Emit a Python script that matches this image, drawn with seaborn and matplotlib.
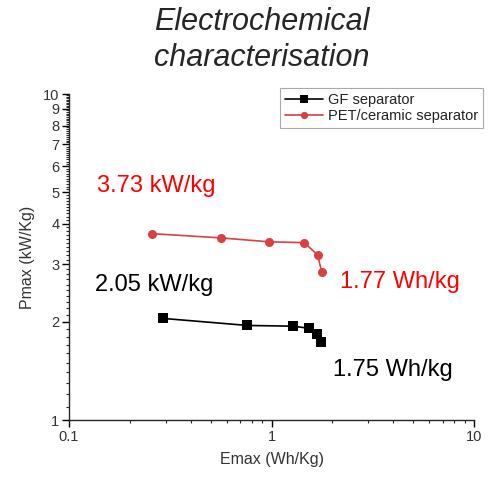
import matplotlib
matplotlib.use("Agg")
import matplotlib.pyplot as plt
import matplotlib.ticker as mticker
import seaborn as sns
import pandas as pd

gf_energy = [0.29, 0.76, 1.28, 1.54, 1.68, 1.75]
gf_power = [2.05, 1.95, 1.94, 1.91, 1.84, 1.74]
pet_energy = [0.256, 0.56, 0.975, 1.45, 1.69, 1.77]
pet_power = [3.73, 3.62, 3.52, 3.50, 3.21, 2.84]
series_names = ["GF separator", "PET/ceramic separator"]
series_colors = ["black", "#d9403f"]
series_markers = ["s", "o"]

sns.set_theme(style="ticks")
plt.rcParams['font.family'] = ['Liberation Sans', 'DejaVu Sans']

df = pd.concat([
    pd.DataFrame({"E": gf_energy, "P": gf_power, "s": series_names[0]}),
    pd.DataFrame({"E": pet_energy, "P": pet_power, "s": series_names[1]}),
])

fig = plt.figure(figsize=(4.95, 4.78), dpi=100)
ax = fig.add_axes([69/495, 58/478, 405/495, 326/478])
sns.lineplot(data=df, x="E", y="P", hue="s", style="s", sort=False,
             palette=dict(zip(series_names, series_colors)),
             markers=dict(zip(series_names, series_markers)),
             dashes=False, markersize=6.5, linewidth=1.2,
             markeredgewidth=0, ax=ax)
ax.set_xscale("log")
ax.set_yscale("log")
ax.set_xlim(0.1, 10)
ax.set_ylim(1, 10)
sns.despine(ax=ax)
ax.spines['left'].set_linewidth(1.0)
ax.spines['bottom'].set_linewidth(1.0)

ax.xaxis.set_major_locator(mticker.FixedLocator([0.1, 1, 10]))
ax.xaxis.set_major_formatter(mticker.FixedFormatter(["0.1", "1", "10"]))
ax.xaxis.set_minor_locator(mticker.LogLocator(base=10, subs=range(2, 10)))
ax.xaxis.set_minor_formatter(mticker.NullFormatter())
yt = [1, 2, 3, 4, 5, 6, 7, 8, 9, 10]
ax.yaxis.set_major_locator(mticker.FixedLocator(yt))
ax.yaxis.set_major_formatter(mticker.FixedFormatter([str(v) for v in yt]))
ax.yaxis.set_minor_locator(mticker.FixedLocator(
    [v + i*0.1 for v in range(1, 10) for i in range(1, 10)]))
ax.yaxis.set_minor_formatter(mticker.NullFormatter())
ax.tick_params(axis='both', which='major', length=5, width=1, labelsize=10.5,
               colors='black', labelcolor='#333333', pad=2)
ax.tick_params(axis='both', which='minor', length=2.5, width=0.8,
               direction='out')
ax.set_xlabel("Emax (Wh/Kg)", fontsize=11.5, color='#333333', labelpad=6)
ax.set_ylabel("Pmax (kW/Kg)", fontsize=11.5, color='#333333', labelpad=6)

leg = ax.legend(loc="upper right", bbox_to_anchor=(483/495, 1 - 88/478),
                bbox_transform=fig.transFigure, fontsize=10.5, frameon=True,
                fancybox=False, edgecolor='#aaaaaa', framealpha=1,
                handlelength=2.6, borderpad=0.35, labelspacing=0.15,
                handletextpad=0.3, borderaxespad=0, markerscale=0.8)
leg.get_frame().set_linewidth(0.8)
leg.set_title(None)
for t in leg.get_texts():
    t.set_color('#222222')

fig.text(262/495, 1 - 22/478, "Electrochemical", ha='center', va='center',
         fontsize=22, style='italic')
fig.text(262/495, 1 - 58/478, "characterisation", ha='center', va='center',
         fontsize=22, style='italic')

fig.text(97/495, 1 - 186/478, "3.73 kW/kg", color='red', fontsize=17,
         ha='left', va='center')
fig.text(95/495, 1 - 285/478, "2.05 kW/kg", color='black', fontsize=17,
         ha='left', va='center')
fig.text(340/495, 1 - 282/478, "1.77 Wh/kg", color='red', fontsize=17,
         ha='left', va='center')
fig.text(333/495, 1 - 370/478, "1.75 Wh/kg", color='black', fontsize=17,
         ha='left', va='center')

fig.savefig("out.png", dpi=100)
